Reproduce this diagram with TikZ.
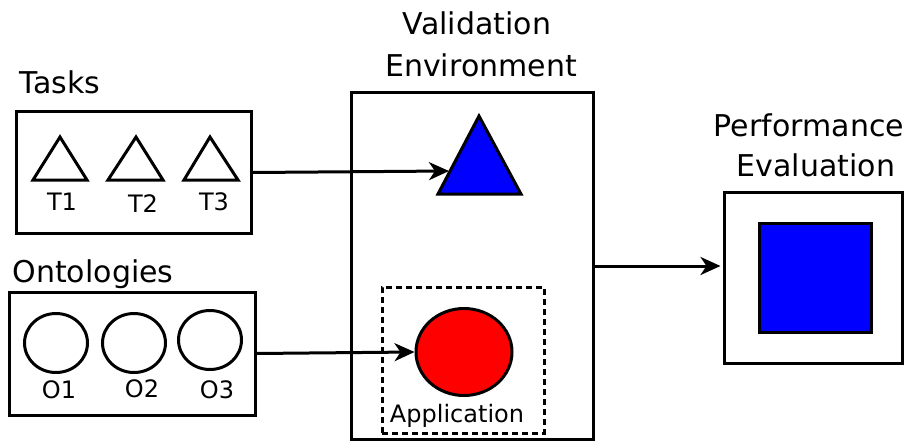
\documentclass[tikz,border=0pt]{standalone}
\usepackage{fontspec}
\setmainfont{DejaVu Sans}
\usetikzlibrary{arrows.meta,shapes.geometric}

\tikzset{
  big/.style={font=\fontsize{30}{35}\selectfont, anchor=base, inner sep=0pt},
  small/.style={font=\fontsize{24}{28}\selectfont, anchor=base, inner sep=0pt},
  frame/.style={draw, line width=3pt, inner sep=0pt},
  oval/.style={ellipse, draw, line width=3pt, inner sep=0pt, minimum width=63pt, minimum height=59pt},
  tri/.style={line width=3pt, line join=miter},
  link/.style={line width=3pt, -{Stealth[length=20pt,width=18pt,inset=6pt]}},
}

\begin{document}
\begin{tikzpicture}[x=1pt, y=-1pt]
  \useasboundingbox (0,0) rectangle (910,441);

  % headings
  \node[big] (hval) at (477,35) {Validation};
  \node[big] (henv) at (481,77) {Environment};
  \node[big] (htask) at (60,94) {Tasks};
  \node[big] (honto) at (93,282) {Ontologies};
  \node[big] (hperf) at (809,136) {Performance};
  \node[big] (heval) at (816,176) {Evaluation};

  % task box with three tasks
  \node[frame, minimum width=235pt, minimum height=121pt] (tasks) at (133.5,172.5) {};
  \draw[tri] (33,180) -- (60,137) -- (87,180) -- cycle;
  \draw[tri] (108,180) -- (136,137) -- (163,180) -- cycle;
  \draw[tri] (184,180) -- (210,137) -- (238,180) -- cycle;
  \node[small] (t1) at (62,210) {T1};
  \node[small] (t2) at (143,212) {T2};
  \node[small] (t3) at (214,210) {T3};

  % ontology box with three ontologies
  \node[frame, minimum width=246pt, minimum height=123pt] (onto) at (132,353.5) {};
  \node[oval] (o1c) at (56,343) {};
  \node[oval] (o2c) at (134,343) {};
  \node[oval] (o3c) at (210,340) {};
  \node[small] (o1) at (59,398) {O1};
  \node[small] (o2) at (142,397) {O2};
  \node[small] (o3) at (217,398) {O3};

  % validation environment
  \node[frame, minimum width=242pt, minimum height=346pt] (valenv) at (472,266) {};
  \draw[tri, fill=blue] (438,194) -- (479,116) -- (521,194) -- cycle;
  \coordinate (tritip) at (449,171);
  \node[frame, dash pattern=on 6pt off 4pt, minimum width=162pt, minimum height=146pt] (appbox) at (463,360) {};
  \node[ellipse, draw, line width=3pt, fill=red, inner sep=0pt, minimum width=96pt, minimum height=87pt] (app) at (464,352) {};
  \node[small] (applbl) at (457,422) {Application};

  % performance evaluation
  \node[frame, minimum width=178pt, minimum height=171pt] (perf) at (813,277.5) {};
  \node[frame, fill=blue, minimum width=112pt, minimum height=109pt] (score) at (815.5,278) {};

  % connectors
  \draw[link] (tasks.east) -- (tritip);
  \draw[link] (onto.east) -- (app.west);
  \draw[link, shorten >=2pt] (valenv.east) -- (valenv.east -| perf.west);
\end{tikzpicture}
\end{document}
